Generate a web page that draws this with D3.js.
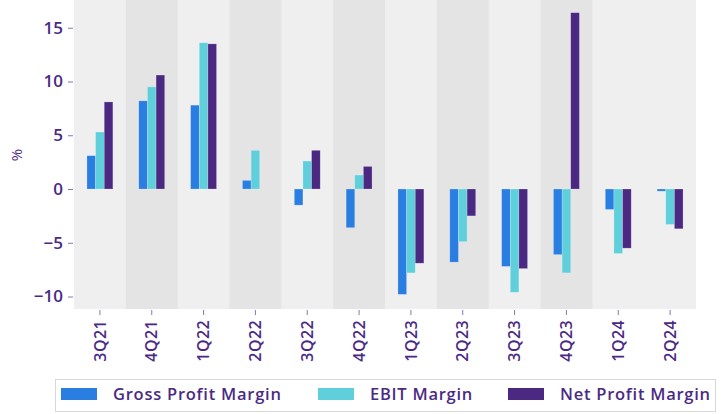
<!DOCTYPE html>
<html>
<head>
<meta charset="utf-8">
<script src="https://cdn.jsdelivr.net/npm/d3@7"></script>
<style>
  body { margin: 0; background: #fff; }
  text { font-family: "Open Sans", "Noto Sans", sans-serif; }
</style>
</head>
<body>
<svg id="chart" width="724" height="414"></svg>
<script>
// data
const quarters = ["3Q21", "4Q21", "1Q22", "2Q22", "3Q22", "4Q22", "1Q23", "2Q23", "3Q23", "4Q23", "1Q24", "2Q24"];
const grossMargin = [3.1, 8.2, 7.8, 0.8, -1.5, -3.6, -9.8, -6.8, -7.2, -6.1, -1.9, -0.2];
const ebitMargin = [5.3, 9.5, 13.6, 3.6, 2.6, 1.3, -7.8, -4.9, -9.6, -7.8, -6.0, -3.3];
const netMargin = [8.1, 10.6, 13.5, null, 3.6, 2.1, -6.9, -2.5, -7.4, 16.4, -5.5, -3.7];
const shadedQuarters = ["4Q21", "2Q22", "4Q22", "2Q23", "4Q23"];
const yTicks = [-10, -5, 0, 5, 10, 15];

const series = [
  { name: "Gross Profit Margin", color: "#2a7de1", values: grossMargin },
  { name: "EBIT Margin", color: "#5fcfdc", values: ebitMargin },
  { name: "Net Profit Margin", color: "#4b2882", values: netMargin },
];

const textColor = "#4b2a85";
const svg = d3.select("#chart");
const plot = { left: 74, right: 696, top: 0, bottom: 309 };

const x = d3.scaleBand().domain(quarters).range([plot.left, plot.right]);
const xInner = d3.scaleBand()
  .domain(series.map((s) => s.name))
  .range([x.bandwidth() * 0.25, x.bandwidth() * 0.75]);
const y = d3.scaleLinear().domain([-11.16, 17.58]).range([plot.bottom, plot.top]);

// plot background
svg.append("rect")
  .attr("x", plot.left).attr("y", plot.top)
  .attr("width", plot.right - plot.left).attr("height", plot.bottom - plot.top)
  .attr("fill", "#efefef");

svg.selectAll(".band")
  .data(shadedQuarters)
  .enter()
  .append("rect")
  .attr("class", "band")
  .attr("x", (d) => x(d))
  .attr("y", plot.top)
  .attr("width", x.bandwidth())
  .attr("height", plot.bottom - plot.top)
  .attr("fill", "#e4e4e4");

// bars
const groups = svg.selectAll(".group")
  .data(quarters)
  .enter()
  .append("g")
  .attr("class", "group")
  .attr("transform", (d) => "translate(" + x(d) + ",0)");

groups.selectAll("rect")
  .data((d, i) => series
    .map((s) => ({ name: s.name, color: s.color, v: s.values[i] }))
    .filter((b) => b.v !== null))
  .enter()
  .append("rect")
  .attr("x", (d) => xInner(d.name))
  .attr("width", xInner.bandwidth())
  .attr("y", (d) => y(Math.max(0, d.v)))
  .attr("height", (d) => Math.abs(y(d.v) - y(0)))
  .attr("fill", (d) => d.color)
  .attr("stroke", "rgba(255,255,255,0.35)")
  .attr("stroke-width", 0.6);

// y axis
const yAxis = svg.append("g")
  .attr("transform", "translate(" + (plot.left - 1) + ",0)")
  .call(d3.axisLeft(y).tickValues(yTicks).tickSize(5).tickPadding(5)
    .tickFormat((d) => (d < 0 ? "\u2212" + Math.abs(d) : d)));
yAxis.select(".domain").remove();
yAxis.selectAll("line").attr("stroke", "#8a74b8");
yAxis.selectAll("text")
  .attr("fill", textColor)
  .attr("font-size", 17)
  .attr("font-weight", 600);

svg.append("text")
  .attr("transform", "translate(22,155) rotate(-90)")
  .attr("text-anchor", "middle")
  .attr("fill", textColor)
  .attr("font-size", 15)
  .text("%");

// x axis
const xAxis = svg.append("g")
  .attr("transform", "translate(0," + (plot.bottom + 1) + ")")
  .call(d3.axisBottom(x).tickSize(5).tickPadding(5));
xAxis.select(".domain").remove();
xAxis.selectAll("line").attr("stroke", "#8a74b8");
xAxis.selectAll("text")
  .attr("fill", textColor)
  .attr("font-size", 16)
  .attr("font-weight", 600)
  .attr("letter-spacing", 0.4)
  .attr("text-anchor", "end")
  .attr("transform", "rotate(-90)")
  .attr("x", -10)
  .attr("y", 0)
  .attr("dy", "0.35em");

// legend
const legend = svg.append("g");
legend.append("rect")
  .attr("x", 55.5).attr("y", 379.5)
  .attr("width", 660).attr("height", 32)
  .attr("fill", "#fff")
  .attr("stroke", "#d8d8d8");

const legendX = [61, 318, 508];
const items = legend.selectAll(".item")
  .data(series)
  .enter()
  .append("g")
  .attr("class", "item")
  .attr("transform", (d, i) => "translate(" + legendX[i] + ",388)");
items.append("rect")
  .attr("width", 36).attr("height", 12)
  .attr("fill", (d) => d.color);
items.append("text")
  .attr("x", 52).attr("y", 6)
  .attr("dy", "0.35em")
  .attr("fill", textColor)
  .attr("font-size", 16.5)
  .attr("font-weight", 600)
  .attr("letter-spacing", 0.75)
  .text((d) => d.name);
</script>
</body>
</html>
